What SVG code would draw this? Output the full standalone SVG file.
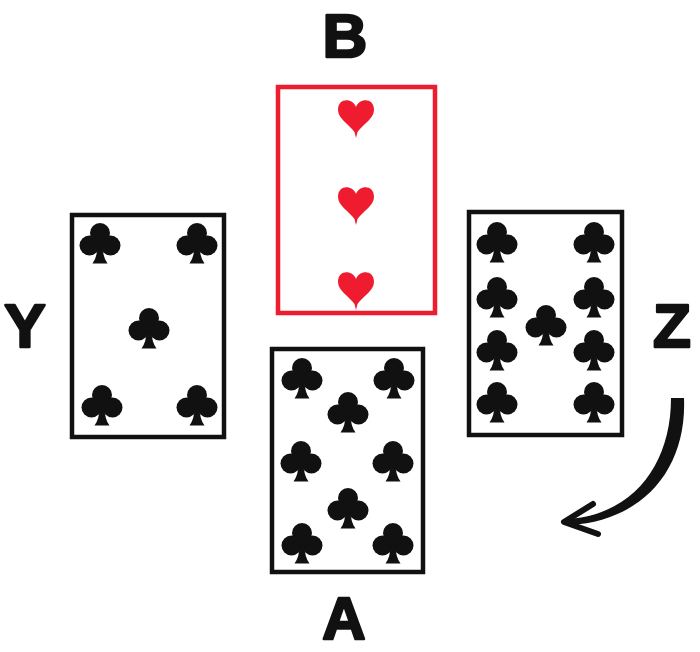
<svg xmlns="http://www.w3.org/2000/svg" xmlns:xlink="http://www.w3.org/1999/xlink" width="700" height="652" viewBox="0 0 700 652">
<style>
.card{fill:#fff;stroke:#111;stroke-width:4.5}
.red{fill:#fff;stroke:#ee1c2e;stroke-width:4.5}
.lbl{font-family:"Liberation Sans",Arial,sans-serif;font-weight:bold;font-size:62px;fill:#111;stroke:#111;stroke-width:2.5;stroke-linejoin:round;text-anchor:middle}
.pip{fill:#111}
.heart{fill:#ee1c2e}
</style>
<defs>
<g id="club">
<circle cx="0" cy="-10" r="10"/>
<circle cx="-10.5" cy="2.5" r="10"/>
<circle cx="10.5" cy="2.5" r="10"/>
<circle cx="0" cy="0" r="5"/>
<path d="M -2.4 2 L 2.4 2 Q 2.6 14 7.5 20.5 L -7.5 20.5 Q -2.6 14 -2.4 2 Z"/>
</g>
<path id="heart" d="M 0 -10 C -3 -19 -18 -20 -18 -7 C -18 2 -6 8 -1.5 15 L 0 21 L 1.5 15 C 6 8 18 2 18 -7 C 18 -20 3 -19 0 -10 Z"/>
</defs>
<rect width="700" height="652" fill="#fff"/>

<g id="card-B">
<rect class="red" x="278" y="87" width="157" height="226"/>
<g class="heart">
<use xlink:href="#heart" x="356" y="117"/>
<use xlink:href="#heart" x="356" y="204"/>
<use xlink:href="#heart" x="356" y="289"/>
</g>
</g>

<g id="card-Y">
<rect class="card" x="72" y="215" width="152" height="222"/>
<g class="pip">
<use xlink:href="#club" x="100" y="243"/>
<use xlink:href="#club" x="197" y="243"/>
<use xlink:href="#club" x="149" y="328"/>
<use xlink:href="#club" x="102" y="405"/>
<use xlink:href="#club" x="197" y="405"/>
</g>
</g>

<g id="card-Z">
<rect class="card" x="469" y="212" width="153" height="223"/>
<g class="pip">
<use xlink:href="#club" x="497" y="242"/>
<use xlink:href="#club" x="594" y="242"/>
<use xlink:href="#club" x="497" y="297"/>
<use xlink:href="#club" x="594" y="297"/>
<use xlink:href="#club" x="546" y="325"/>
<use xlink:href="#club" x="497" y="350"/>
<use xlink:href="#club" x="594" y="350"/>
<use xlink:href="#club" x="497" y="402"/>
<use xlink:href="#club" x="594" y="402"/>
</g>
</g>

<g id="card-A">
<rect class="card" x="272" y="349" width="151" height="223"/>
<g class="pip">
<use xlink:href="#club" x="302" y="378"/>
<use xlink:href="#club" x="394" y="378"/>
<use xlink:href="#club" x="348" y="412"/>
<use xlink:href="#club" x="301" y="461"/>
<use xlink:href="#club" x="393" y="461"/>
<use xlink:href="#club" x="348" y="508"/>
<use xlink:href="#club" x="302" y="543"/>
<use xlink:href="#club" x="393" y="543"/>
</g>
</g>

<g id="labels">
<text class="lbl" x="345" y="57">B</text>
<text class="lbl" x="25" y="347">Y</text>
<text class="lbl" x="672" y="347">Z</text>
<text class="lbl" x="344" y="639" style="font-size:60px">A</text>
</g>

<g id="connectors">
<path d="M 684 398 C 687 470 642 521 570 525 L 570 519 C 636 513 671 462 671 398 Z" fill="#111"/>
<polyline points="593,504 564,522 598,534" fill="none" stroke="#111" stroke-width="6" stroke-linecap="round" stroke-linejoin="round"/>
</g>
</svg>
